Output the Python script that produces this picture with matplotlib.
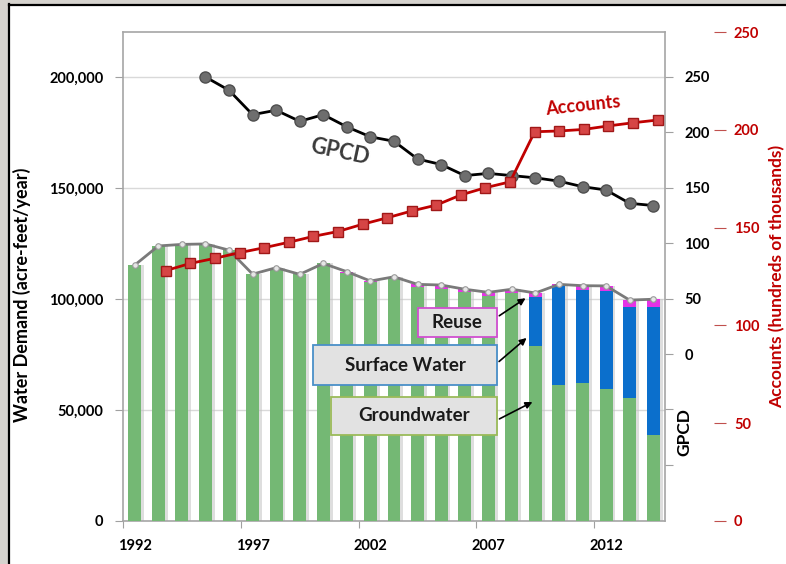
import matplotlib
matplotlib.use("Agg")
import matplotlib.pyplot as plt
import numpy as np
from matplotlib.patches import Rectangle, FancyBboxPatch
from matplotlib.ticker import FuncFormatter

plt.rcParams['font.family'] = ['Lato', 'DejaVu Sans']
plt.rcParams['font.weight'] = 'bold'

# ---------------- data ----------------
years = list(range(1992, 2015))
groundwater = [115300, 123900, 124600, 124800, 122000, 111200, 114100, 111100, 116000,
               111800, 107800, 109500, 105200, 104500, 103000, 101200, 102600,
               78800, 61300, 62300, 59300, 55300, 38700]
surface_water = [0] * 17 + [22100, 44400, 41600, 44300, 41200, 57900]
reuse = [0, 0, 0, 0, 0, 0, 0, 0, 0, 500, 300, 500, 1400, 1800, 1400, 1800, 1800,
         1800, 900, 2100, 2300, 3000, 3300]

gpcd_years = list(range(1995, 2015))
gpcd = [250, 238, 216, 220, 210, 216, 205, 196, 192, 176, 171, 161, 163, 161,
        159, 156, 151, 148, 136, 134]

acc_years = list(range(1994, 2015))
accounts = [128, 131.7, 134.3, 137.2, 139.7, 142.5, 145.5, 148, 151.7, 155, 158.5,
            161.5, 166.7, 170.4, 173.4, 199, 199.4, 200.2, 202, 203.6, 205]

year_labels = ['1992', '1997', '2002', '2007', '2012']
demand_ticks = [0, 50000, 100000, 150000, 200000]
gpcd_ticks = [-100, -50, 0, 50, 100, 150, 200, 250]
acc_ticks = [0, 50, 100, 150, 200, 250]

# ---------------- figure ----------------
W, H = 786, 564
fig = plt.figure(figsize=(W / 100, H / 100), dpi=100)
fig.patch.set_facecolor('white')

# slide frame
fig.patches.append(Rectangle((0, 0), 8 / W, 1, transform=fig.transFigure,
                             color='#d6d3ce', zorder=0))
fig.patches.append(Rectangle((0, 1 - 4 / H), 1, 4 / H, transform=fig.transFigure,
                             color='#d6d3ce', zorder=0))
fig.add_artist(plt.Line2D([8.5 / W, 8.5 / W], [0, 1 - 4 / H], transform=fig.transFigure,
                          color='black', lw=1.6))
fig.add_artist(plt.Line2D([8.5 / W, 1], [1 - 4.5 / H, 1 - 4.5 / H], transform=fig.transFigure,
                          color='black', lw=1.6))

rect = [123 / W, (H - 521) / H, 542 / W, 489 / H]
ax = fig.add_axes(rect)

x = np.array(years)
g = np.array(groundwater)
s = np.array(surface_water)
r = np.array(reuse)
bw = 0.55

ax.bar(x + 0.06, g + s + r, width=bw + 0.12, color='#c4c4c4', alpha=0.55, zorder=2, linewidth=0)
ax.bar(x, g, width=bw, color='#74b874', zorder=3, linewidth=0)
ax.bar(x, s, bottom=g, width=bw, color='#0b6fcc', zorder=3, linewidth=0)
ax.bar(x, r, bottom=g + s, width=bw, color='#e632e6', zorder=3, linewidth=0)
ax.plot(x, g + s + r, color='#7a7a7a', lw=2, marker='o', ms=4,
        mfc='#e6e6e6', mec='#9a9a9a', mew=0.8, zorder=5)

ax.set_xlim(1991.5, 2014.5)
ax.set_ylim(0, 220270)
ax.set_yticks(demand_ticks)
ax.yaxis.set_major_formatter(FuncFormatter(lambda v, p: f"{int(v):,}"))
ax.grid(axis='y', color='#d9d9d9', lw=1, zorder=0)
ax.set_axisbelow(True)

ax.set_xticks([1991.5, 1996.5, 2001.5, 2006.5, 2011.5])
ax.set_xticklabels([])
ax.set_xticks([int(t) for t in year_labels], minor=True)
ax.set_xticklabels(year_labels, minor=True)
ax.tick_params(axis='x', which='major', length=5, color='#a0a0a0', direction='out')
ax.tick_params(axis='x', which='minor', length=0, pad=13, labelsize=10.5)
ax.tick_params(axis='y', length=6, color='#a0a0a0', pad=8, labelsize=10.5)
for sp in ax.spines.values():
    sp.set_color('#a6a6a6')
    sp.set_linewidth(1.2)

ax.text(-0.186, 0.462, 'Water Demand (acre-feet/year)', transform=ax.transAxes,
        rotation=90, ha='center', va='center', fontsize=13, fontweight='bold')

# annotation boxes
def box(x0, x1, y0, y1, label, edge):
    p = FancyBboxPatch((x0, y0), x1 - x0, y1 - y0, boxstyle='square,pad=0',
                       transform=ax.transAxes, facecolor='#e2e2e2', edgecolor=edge,
                       lw=1.3, zorder=8)
    ax.add_patch(p)
    ax.text((x0 + x1) / 2, (y0 + y1) / 2, label, transform=ax.transAxes, ha='center',
            va='center', fontsize=13.5, fontweight='bold', color='#1a1a1a', zorder=9)

box(0.544, 0.690, 0.376, 0.436, 'Reuse', '#d04fd0')
box(0.3506, 0.690, 0.278, 0.360, 'Surface Water', '#4a90c8')
box(0.384, 0.690, 0.176, 0.2536, 'Groundwater', '#9bbb59')

arrow = dict(arrowstyle='-|>', color='black', lw=1.2, mutation_scale=10)
ax.annotate('', xy=(0.747, 0.4587), xytext=(0.690, 0.4166), xycoords='axes fraction',
            arrowprops=arrow, zorder=9)
ax.annotate('', xy=(0.7485, 0.378), xytext=(0.690, 0.3225), xycoords='axes fraction',
            arrowprops=arrow, zorder=9)
ax.annotate('', xy=(0.760, 0.246), xytext=(0.690, 0.2062), xycoords='axes fraction',
            arrowprops=arrow, zorder=9)

# ---------------- GPCD axis ----------------
ax2 = ax.twinx()
ax2.set_ylim(-150.7, 290.6)
ax2.plot(gpcd_years, gpcd, color='black', lw=2, marker='o', ms=8,
         mfc='#6e6e6e', mec='#4f4f4f', mew=1, zorder=6)
ax2.set_yticks(gpcd_ticks)
ax2.set_yticklabels(['' if t < 0 else str(t) for t in gpcd_ticks])
ax2.tick_params(axis='y', length=6, color='#a0a0a0', pad=8, labelsize=10.5)
for sp in ax2.spines.values():
    sp.set_visible(False)
ax2.text(1.035, 0.182, 'GPCD', transform=ax2.transAxes, rotation=90, ha='center',
         va='center', fontsize=12.5, fontweight='bold')
ax2.text(0.400, 0.7546, 'GPCD', transform=ax2.transAxes, rotation=-12, ha='center',
         va='center', fontsize=15.5, fontweight='bold', color='#3a3a3a')

# ---------------- Accounts axis ----------------
ax3 = fig.add_axes(rect, frameon=False)
ax3.patch.set_visible(False)
ax3.set_xlim(1992.264, 2014.297)
ax3.set_ylim(0, 250)
ax3.plot(acc_years, accounts, color='#c00000', lw=2, marker='s', ms=7,
         mfc='#d64545', mec='#a01818', mew=1, zorder=7)
ax3.set_xticks([])
ax3.yaxis.tick_right()
ax3.yaxis.set_label_position('right')
ax3.spines['right'].set_visible(True)
ax3.spines['right'].set_position(('axes', 1.1015))
ax3.spines['right'].set_color('#c0504d')
ax3.spines['right'].set_linewidth(1.3)
ax3.set_yticks(acc_ticks)
ax3.tick_params(axis='y', direction='inout', length=8, color='#c0504d',
                labelcolor='#c00000', pad=6, labelsize=10.5)
ax3.text(1.2065, 0.5, 'Accounts (hundreds of thousands)', transform=ax3.transAxes,
         rotation=90, ha='center', va='center', fontsize=12.5, fontweight='bold',
         color='#c00000', clip_on=False)
ax3.text(0.849, 0.8487, 'Accounts', transform=ax3.transAxes, rotation=6, ha='center',
         va='center', fontsize=13, fontweight='bold', color='#c00000')

fig.savefig('out.png', dpi=100)
